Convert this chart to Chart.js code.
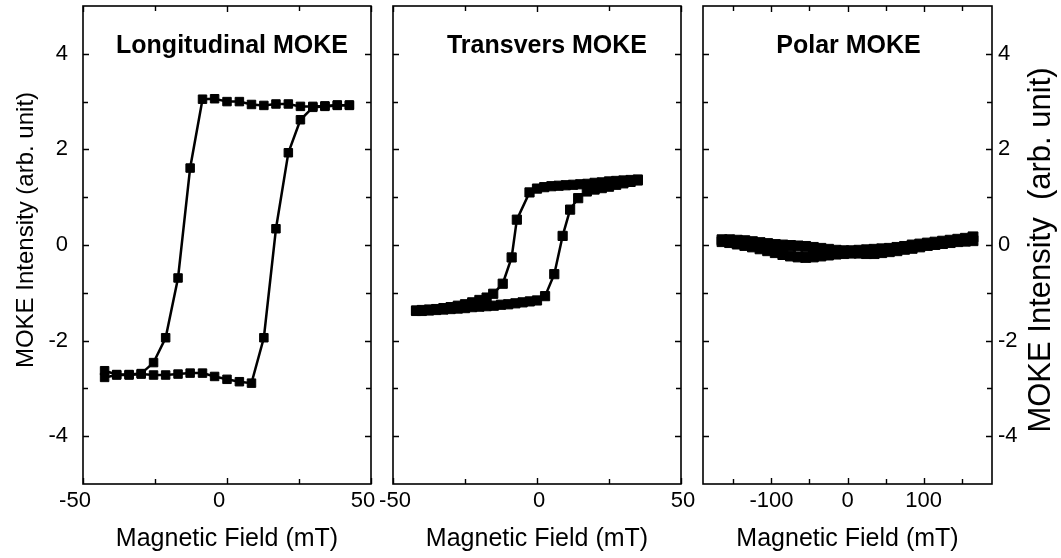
<!DOCTYPE html>
<html>
<head>
<meta charset="utf-8">
<script src="https://cdn.jsdelivr.net/npm/chart.js@4.4.0/dist/chart.umd.min.js"></script>
<style>
  html, body { margin: 0; padding: 0; background: #fff; }
  #wrap { position: relative; width: 1061px; height: 558px; }
  #wrap canvas { position: absolute; left: 0; top: 0; }
</style>
</head>
<body>
<div id="wrap">
  <canvas id="long-chart" width="1061" height="558"></canvas>
  <canvas id="trans-chart" width="1061" height="558"></canvas>
  <canvas id="polar-chart" width="1061" height="558"></canvas>
</div>
<script>
// Longitudinal MOKE: both sweeps share the same field steps
const longField = [-42.5, -38.3, -34, -29.8, -25.5, -21.3, -17, -12.8, -8.5, -4.3, 0, 4.3, 8.5, 12.8, 17, 21.3, 25.5, 29.8, 34, 38.3, 42.5];
const longDown = [-2.63, -2.71, -2.71, -2.69, -2.46, -1.94, -0.69, 1.61, 3.05, 3.06, 3.0, 3.0, 2.94, 2.92, 2.95, 2.95, 2.9, 2.9, 2.91, 2.93, 2.92];
const longUp = [-2.77, -2.72, -2.72, -2.7, -2.72, -2.72, -2.7, -2.68, -2.68, -2.75, -2.81, -2.86, -2.89, -1.94, 0.34, 1.93, 2.62, 2.88, 2.9, 2.92, 2.93];

// Transvers MOKE
const transDownField = [35, 32.5, 30, 27.5, 25, 22.5, 20, 17.5, 15, 12.5, 10, 7.5, 5, 2.5, 0, -2.6, -7, -8.8, -11.9, -15.2, -17.5, -20, -22.5, -25, -27.5, -30, -32.5, -35, -37.5, -40, -42];
const transDown = [1.37, 1.36, 1.35, 1.34, 1.33, 1.31, 1.3, 1.28, 1.27, 1.26, 1.25, 1.24, 1.23, 1.21, 1.18, 1.1, 0.53, -0.26, -0.81, -1.02, -1.1, -1.15, -1.2, -1.24, -1.27, -1.3, -1.32, -1.34, -1.35, -1.36, -1.37];
const transUpField = [-42, -40, -37.5, -35, -32.5, -30, -27.5, -25, -22.5, -20, -17.5, -15, -12.5, -10, -7.5, -5, -2.5, 0, 2.8, 6, 8.9, 11.5, 14.3, 17.3, 20, 22.5, 25, 27.5, 30, 32.5, 35];
const transUp = [-1.38, -1.38, -1.37, -1.36, -1.35, -1.34, -1.33, -1.32, -1.3, -1.29, -1.28, -1.27, -1.25, -1.24, -1.22, -1.2, -1.18, -1.16, -1.07, -0.61, 0.19, 0.74, 0.98, 1.12, 1.16, 1.19, 1.22, 1.26, 1.29, 1.32, 1.35];

// Polar MOKE
const polarField = [-165, -155, -145, -135, -125, -115, -105, -95, -85, -75, -65, -55, -45, -35, -25, -15, -5, 5, 15, 25, 35, 45, 55, 65, 75, 85, 95, 105, 115, 125, 135, 145, 155, 165];
const polarDown = [0.11, 0.11, 0.1, 0.09, 0.07, 0.05, 0.03, 0.01, 0.0, -0.01, -0.02, -0.03, -0.05, -0.07, -0.09, -0.11, -0.12, -0.12, -0.11, -0.1, -0.09, -0.08, -0.07, -0.05, -0.03, 0.0, 0.02, 0.04, 0.06, 0.08, 0.1, 0.12, 0.14, 0.17];
const polarUp = [0.07, 0.05, 0.02, -0.01, -0.04, -0.08, -0.12, -0.16, -0.2, -0.23, -0.25, -0.26, -0.25, -0.23, -0.21, -0.19, -0.18, -0.17, -0.17, -0.18, -0.18, -0.16, -0.14, -0.12, -0.09, -0.07, -0.04, -0.01, 0.01, 0.03, 0.05, 0.07, 0.08, 0.09];

const yTicks = [-4, -2, 0, 2, 4];
const yMinorTicks = [-3, -1, 1, 3];
const fieldTicks = [-50, 0, 50];
const fieldMinorTicks = [-25, 25];
const polarTicks = [-100, 0, 100];
const polarMinorTicks = [-150, -50, 50, 150];

const panelTitles = ["Longitudinal MOKE", "Transvers MOKE", "Polar MOKE"];
const xTitle = "Magnetic Field (mT)";
const yTitleLeft = "MOKE Intensity (arb. unit)";
const yTitleRight = "MOKE Intensity  (arb. unit)";

const FONT = '"Liberation Sans", Arial, Helvetica, sans-serif';
Chart.defaults.font.family = FONT;
Chart.defaults.color = "#000";

function toPoints(xs, ys) {
  return xs.map((x, i) => ({ x: x, y: ys[i] }));
}

function sweep(xs, ys, r) {
  return {
    data: toPoints(xs, ys),
    showLine: true,
    borderColor: "#000",
    backgroundColor: "#000",
    borderWidth: 2.5,
    pointStyle: "rect",
    pointRadius: r,
    pointBorderWidth: 1
  };
}

// frame, inward ticks on all four sides, panel title and optional side title
const framePlugin = {
  id: "frame",
  afterDatasetsDraw(chart, args, opts) {
    const { ctx, chartArea: a } = chart;
    const x = chart.scales.x;
    const y = chart.scales.y;
    ctx.save();
    ctx.strokeStyle = "#000";
    ctx.lineWidth = 1.6;
    ctx.strokeRect(a.left, a.top, a.right - a.left, a.bottom - a.top);

    ctx.lineWidth = 1.4;
    ctx.beginPath();
    const xMarks = (vals, len) => vals.forEach(v => {
      const px = Math.round(x.getPixelForValue(v)) + 0.5;
      ctx.moveTo(px, a.bottom); ctx.lineTo(px, a.bottom - len);
      ctx.moveTo(px, a.top); ctx.lineTo(px, a.top + len);
    });
    const yMarks = (vals, len) => vals.forEach(v => {
      const py = Math.round(y.getPixelForValue(v)) + 0.5;
      ctx.moveTo(a.left, py); ctx.lineTo(a.left + len, py);
      ctx.moveTo(a.right, py); ctx.lineTo(a.right - len, py);
    });
    xMarks(opts.xMajor, 6);
    xMarks(opts.xMinor, 5);
    yMarks(yTicks, 6);
    yMarks(yMinorTicks, 5);
    ctx.stroke();

    ctx.fillStyle = "#000";
    ctx.textAlign = "center";
    ctx.textBaseline = "middle";
    ctx.font = "bold 25px " + FONT;
    ctx.fillText(opts.title, (a.left + a.right) / 2 + opts.titleDx, 46);

    if (opts.side) {
      ctx.translate(opts.side.x, opts.side.y);
      ctx.rotate(-Math.PI / 2);
      ctx.font = opts.side.size + "px " + FONT;
      ctx.fillText(opts.side.text, 0, 0);
    }
    ctx.restore();
  }
};

function makeChart(id, datasets, cfg) {
  const majors = cfg.xMajor;
  return new Chart(document.getElementById(id), {
    type: "scatter",
    data: { datasets: datasets },
    plugins: [framePlugin],
    options: {
      responsive: false,
      animation: false,
      events: [],
      devicePixelRatio: 1,
      layout: {
        autoPadding: false,
        padding: { left: cfg.padLeft, right: cfg.padRight, top: 6, bottom: 0 }
      },
      plugins: {
        legend: { display: false },
        tooltip: { enabled: false },
        frame: {
          xMajor: cfg.xMajor,
          xMinor: cfg.xMinor,
          title: cfg.title,
          titleDx: cfg.titleDx,
          side: cfg.side
        }
      },
      scales: {
        x: {
          type: "linear",
          min: cfg.xMin,
          max: cfg.xMax,
          afterBuildTicks: s => { s.ticks = majors.map(v => ({ value: v })); },
          afterFit: s => { s.height = 74; s.paddingLeft = 0; s.paddingRight = 0; },
          grid: { display: false, drawTicks: false },
          border: { display: false },
          ticks: { font: { size: 22 }, padding: 4, labelOffset: cfg.labelOffset, maxRotation: 0, autoSkip: false },
          title: { display: true, text: xTitle, font: { size: 25 }, padding: { top: 0, bottom: 4 } }
        },
        y: {
          type: "linear",
          position: cfg.yPosition,
          min: -5,
          max: 5,
          afterBuildTicks: s => { s.ticks = yTicks.map(v => ({ value: v })); },
          afterFit: s => { s.width = cfg.yWidth; s.paddingTop = 0; s.paddingBottom = 0; },
          grid: { display: false, drawTicks: false },
          border: { display: false },
          ticks: { display: cfg.yLabels, font: { size: 22 }, padding: cfg.yPad, autoSkip: false }
        }
      }
    }
  });
}

makeChart("long-chart", [sweep(longField, longDown, 6), sweep(longField, longUp, 6)], {
  xMin: -50, xMax: 50, xMajor: fieldTicks, xMinor: fieldMinorTicks, labelOffset: -8,
  padLeft: 0, padRight: 1061 - 371, yWidth: 83, yPosition: "left", yLabels: true, yPad: 15,
  title: panelTitles[0], titleDx: 5,
  side: { text: yTitleLeft, x: 26, y: 230, size: 24 }
});

makeChart("trans-chart", [sweep(transDownField, transDown, 6.5), sweep(transUpField, transUp, 6.5)], {
  xMin: -50, xMax: 50, xMajor: fieldTicks, xMinor: fieldMinorTicks, labelOffset: 2,
  padLeft: 0, padRight: 1061 - 681, yWidth: 393, yPosition: "left", yLabels: false, yPad: 0,
  title: panelTitles[1], titleDx: 10, side: null
});

makeChart("polar-chart", [sweep(polarField, polarDown, 7), sweep(polarField, polarUp, 7)], {
  xMin: -190, xMax: 190, xMajor: polarTicks, xMinor: polarMinorTicks, labelOffset: 0,
  padLeft: 703, padRight: 0, yWidth: 69, yPosition: "right", yLabels: true, yPad: 6,
  title: panelTitles[2], titleDx: 1,
  side: { text: yTitleRight, x: 1041, y: 250, size: 31 }
});
</script>
</body>
</html>
